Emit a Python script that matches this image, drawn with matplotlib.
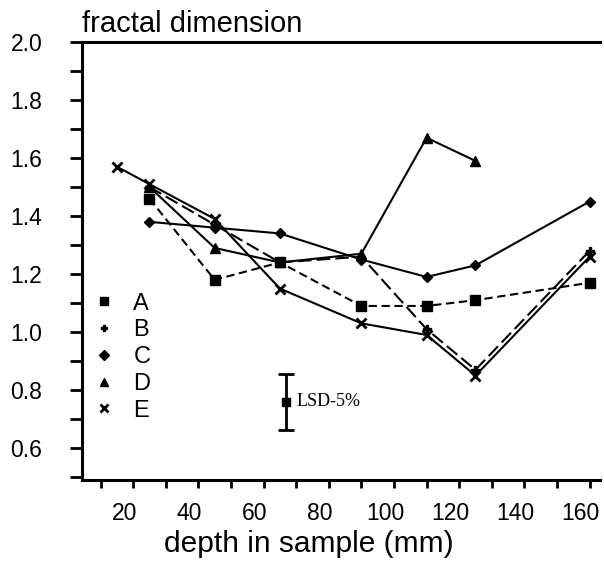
import numpy as np
import matplotlib
matplotlib.use("Agg")
import matplotlib.pyplot as plt
from matplotlib.lines import Line2D
from matplotlib.transforms import ScaledTranslation

plt.rcParams['font.family'] = ['Liberation Sans', 'DejaVu Sans']

# --- data ---
depth_A = [25, 45, 65, 90, 110, 125, 160]
fd_A = [1.46, 1.18, 1.24, 1.09, 1.09, 1.11, 1.17]

depth_B = [25, 45, 65, 90, 110, 125, 160]
fd_B = [1.50, 1.37, 1.24, 1.26, 1.01, 0.87, 1.28]

depth_C = [25, 45, 65, 90, 110, 125, 160]
fd_C = [1.38, 1.36, 1.34, 1.25, 1.19, 1.23, 1.45]

depth_D = [25, 45, 65, 90, 110, 125]
fd_D = [1.50, 1.29, 1.24, 1.27, 1.67, 1.59]

depth_E = [15, 25, 45, 65, 90, 110, 125, 160]
fd_E = [1.57, 1.51, 1.39, 1.15, 1.03, 0.99, 0.85, 1.26]

lsd_x = 67
lsd_y = 0.76
lsd_err = 0.097

labels = ["A", "B", "C", "D", "E"]

fig = plt.figure(figsize=(6.04, 5.63), dpi=100)
ax = fig.add_axes([82 / 604, 1 - 480 / 563, 518 / 604, 438 / 563])

lw = 1.5
ax.plot(depth_A, fd_A, color='black', lw=lw, dashes=[4, 2.2], marker='s', ms=6.5)
ax.plot(depth_B, fd_B, color='black', lw=lw, dashes=[6.5, 2.5], marker='P', ms=6)
ax.plot(depth_C, fd_C, color='black', lw=lw, marker='D', ms=5.5)
ax.plot(depth_D, fd_D, color='black', lw=lw, marker='^', ms=7)
ax.plot(depth_E, fd_E, color='black', lw=lw, marker='x', ms=7, mew=2)

# LSD bar
ax.errorbar([lsd_x], [lsd_y], yerr=[lsd_err], fmt='s', color='black', ms=6,
            elinewidth=2, capsize=6, capthick=2)
ax.text(lsd_x + 3, lsd_y, "LSD-5%", family=['Liberation Serif', 'DejaVu Serif'],
        fontsize=13, va='center', ha='left')

# legend (markers only)
handles = [
    Line2D([], [], color='black', marker='s', ls='none', ms=6),
    Line2D([], [], color='black', marker='P', ls='none', ms=5),
    Line2D([], [], color='black', marker='D', ls='none', ms=5),
    Line2D([], [], color='black', marker='^', ls='none', ms=6),
    Line2D([], [], color='black', marker='x', ls='none', ms=6, mew=2),
]
ax.legend(handles, labels, loc='upper left', bbox_to_anchor=(-0.008, 0.46),
          frameon=False, fontsize=17, handlelength=1.0, handletextpad=0.75,
          labelspacing=0.2, borderaxespad=0.2)

ax.set_xlim(4.3, 163.2)
ax.set_ylim(0.49, 2.0)
ax.set_xticks(np.arange(20, 161, 20))
ax.set_xticks(np.arange(10, 161, 10), minor=True)
ax.set_yticks(np.arange(0.6, 2.01, 0.2))
ax.set_yticks(np.arange(0.5, 2.01, 0.1), minor=True)
ax.set_yticklabels([f"{v:.1f}" for v in np.arange(0.6, 2.01, 0.2)])

ax.spines['right'].set_visible(False)
for s in ['left', 'bottom', 'top']:
    ax.spines[s].set_linewidth(2.2)
ax.tick_params(axis='both', which='both', direction='out', width=2, length=8.5)
ax.tick_params(axis='y', which='major', labelsize=16.5, pad=20)
ax.tick_params(axis='x', which='both', length=6)
ax.tick_params(axis='x', which='major', labelsize=16.5, pad=10)

# x tick labels sit a little left of their ticks in the original
shift = ScaledTranslation(-9 / 100, 0, fig.dpi_scale_trans)
for lab in ax.get_xticklabels():
    lab.set_transform(lab.get_transform() + shift)

ax.set_xlabel("depth in sample (mm)", fontsize=21.5)
ax.xaxis.set_label_coords(0.438, -0.115)
ax.text(0.0, 1.01, "fractal dimension", transform=ax.transAxes, fontsize=21,
        ha='left', va='bottom')

fig.savefig("out.png", dpi=100)
